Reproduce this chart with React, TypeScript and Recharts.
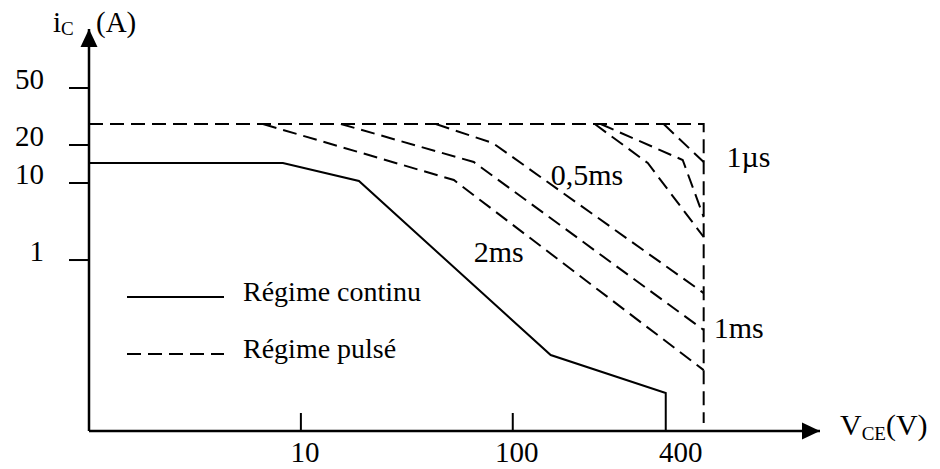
import React from "react";
import { LineChart, Line, XAxis, YAxis, ReferenceDot, Legend } from "recharts";

const FONT = "'Liberation Serif', 'Times New Roman', Times, serif";

// Schematic SOA diagram. x: log-position of V_CE (1 unit = one decade, 0 = 1 V).
// y: schematic position of i_C (0 = 1 A level, 1 = 10 A level).
const X_DOMAIN: [number, number] = [0, 3.45];
const Y_DOMAIN: [number, number] = [-2.22, 3.0];

const vceTicks = [1, 2, 2.774];
const vceTickLabels = ["10", "100", "400"];
const vceTickMarked = [true, true, false];

const icTicks = [0, 1, 1.494, 2.234];
const icTickLabels = ["1", "10", "20", "50"];

// Régime continu (solid)
const continuU = [0, 0.915, 1.274, 2.179, 2.722, 2.722];
const continuV = [1.26, 1.26, 1.026, -1.234, -1.727, -2.22];

// Régime pulsé (dashed)
const envelopeU = [0, 2.901, 2.901];
const envelopeV = [1.766, 1.766, -2.117];
const pulse2msU = [0.821, 1.722, 2.901];
const pulse2msV = [1.766, 1.039, -1.429];
const pulse1msU = [1.189, 1.816, 2.901];
const pulse1msV = [1.766, 1.273, -0.909];
const pulse05msU = [1.637, 1.906, 2.901];
const pulse05msV = [1.766, 1.519, -0.429];
const pulseAU = [2.387, 2.637, 2.901];
const pulseAV = [1.766, 1.26, 0.299];
const pulseBU = [2.415, 2.802, 2.901];
const pulseBV = [1.766, 1.299, 0.558];
const pulse1usU = [2.712, 2.901];
const pulse1usV = [1.766, 1.273];

const annotationTexts = ["0,5ms", "2ms", "1ms", "1µs"];
const annotationU = [2.179, 1.816, 2.948, 3.009];
const annotationV = [0.974, -0.026, -1.013, 1.208];

const legendNames = ["Régime continu", "Régime pulsé"];
const legendDashed = [false, true];

const pts = (us: number[], vs: number[]) => us.map((u, i) => ({ u, v: vs[i] }));

const continuData = pts(continuU, continuV);
const pulsedSeries = [
  pts(envelopeU, envelopeV),
  pts(pulse2msU, pulse2msV),
  pts(pulse1msU, pulse1msV),
  pts(pulse05msU, pulse05msV),
  pts(pulseAU, pulseAV),
  pts(pulseBU, pulseBV),
  pts(pulse1usU, pulse1usV),
];
const annotations = annotationTexts.map((t, i) => ({ t, u: annotationU[i], v: annotationV[i] }));

const DASH = "14 7";

const XTick = (props: any) => {
  const { x, y, payload } = props;
  const i = vceTicks.indexOf(payload.value);
  return (
    <g>
      {vceTickMarked[i] && <line x1={x} y1={y} x2={x} y2={y - 18} stroke="#000" strokeWidth={2} />}
      <text x={x + 4} y={y + 31} textAnchor="middle" fontFamily={FONT} fontSize={29} fill="#000">
        {vceTickLabels[i]}
      </text>
    </g>
  );
};

const YTick = (props: any) => {
  const { x, y, payload } = props;
  const i = icTicks.indexOf(payload.value);
  return (
    <g>
      <line x1={x - 20} y1={y} x2={x} y2={y} stroke="#000" strokeWidth={2} />
      <text x={x - 45} y={y + 1} textAnchor="end" fontFamily={FONT} fontSize={29} fill="#000">
        {icTickLabels[i]}
      </text>
    </g>
  );
};

const YArrow = (props: any) => {
  const { cx, cy } = props;
  return (
    <g>
      <polygon points={`${cx},${cy} ${cx - 8.5},${cy + 18} ${cx + 8.5},${cy + 18}`} fill="#000" />
      <text x={cx - 36} y={cy + 3} fontFamily={FONT} fontSize={29} fill="#000">
        i<tspan fontSize={19} dy={3}>C</tspan>
      </text>
      <text x={cx + 7} y={cy + 3} fontFamily={FONT} fontSize={29} fill="#000">(A)</text>
    </g>
  );
};

const XArrow = (props: any) => {
  const { cx, cy } = props;
  return (
    <g>
      <polygon points={`${cx},${cy} ${cx - 18},${cy - 8.5} ${cx - 18},${cy + 8.5}`} fill="#000" />
      <text x={cx + 20} y={cy + 4} fontFamily={FONT} fontSize={30} fill="#000">
        V<tspan fontSize={19} dy={5}>CE</tspan><tspan dy={-5}>(V)</tspan>
      </text>
    </g>
  );
};

const makeTextShape = (t: string) => (props: any) => (
  <text x={props.cx} y={props.cy} fontFamily={FONT} fontSize={30} fill="#000">{t}</text>
);

const LegendContent = () => (
  <svg width={330} height={100} style={{ display: "block" }}>
    {legendNames.map((n, i) => (
      <g key={n}>
        <line x1={0} y1={27 + i * 57} x2={97} y2={27 + i * 57} stroke="#000" strokeWidth={2}
          strokeDasharray={legendDashed[i] ? DASH : undefined} />
        <text x={116} y={31 + i * 57} fontFamily={FONT} fontSize={28} fill="#000">{n}</text>
      </g>
    ))}
  </svg>
);

export default function App() {
  return (
    <div style={{ position: "absolute", left: 0, top: 0, background: "#fff" }}>
      <LineChart width={940} height={469} margin={{ top: 29, right: 120, bottom: 0, left: 0 }}>
        <XAxis type="number" dataKey="u" domain={X_DOMAIN} ticks={vceTicks} interval={0} height={38}
          axisLine={{ stroke: "#000", strokeWidth: 2.5 }} tickLine={false} tickSize={0} tickMargin={0}
          tick={<XTick />} />
        <YAxis type="number" dataKey="v" domain={Y_DOMAIN} ticks={icTicks} interval={0} width={89}
          axisLine={{ stroke: "#000", strokeWidth: 2.5 }} tickLine={false} tickSize={0} tickMargin={0}
          tick={<YTick />} />
        <Legend layout="vertical" align="center" verticalAlign="middle" content={<LegendContent />}
          wrapperStyle={{ left: 127, top: 270, width: 330 }} />
        <Line data={continuData} dataKey="v" name={legendNames[0]} type="linear" stroke="#000" strokeWidth={2}
          dot={false} activeDot={false} isAnimationActive={false} />
        {pulsedSeries.map((d, i) => (
          <Line key={i} data={d} dataKey="v" name={i === 0 ? legendNames[1] : `p${i}`} type="linear" stroke="#000"
            strokeWidth={2} strokeDasharray={DASH} dot={false} activeDot={false} isAnimationActive={false} />
        ))}
        {annotations.map((a) => (
          <ReferenceDot key={a.t} x={a.u} y={a.v} r={0} ifOverflow="visible" shape={makeTextShape(a.t)} />
        ))}
        <ReferenceDot x={X_DOMAIN[0]} y={Y_DOMAIN[1]} r={0} ifOverflow="visible" shape={YArrow} />
        <ReferenceDot x={X_DOMAIN[1]} y={Y_DOMAIN[0]} r={0} ifOverflow="visible" shape={XArrow} />
      </LineChart>
    </div>
  );
}
